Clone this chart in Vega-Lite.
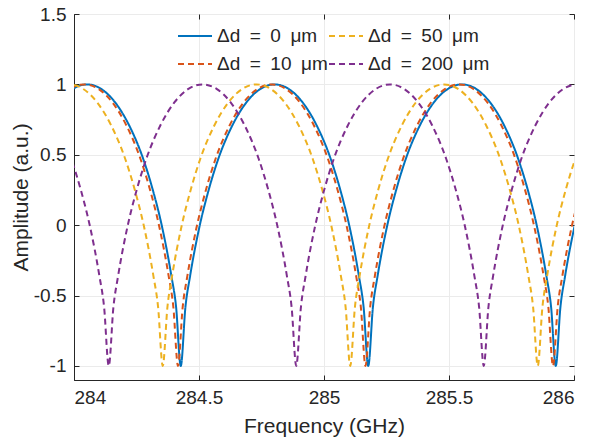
{
  "$schema": "https://vega.github.io/schema/vega-lite/v6.json",
  "width": 500,
  "height": 366,
  "autosize": {"type": "none"},
  "padding": {"left": 74, "top": 14, "right": 23, "bottom": 65},
  "background": "white",
  "config": {
    "font": "Liberation Sans",
    "view": {"stroke": "#262626", "strokeWidth": 1},
    "axis": {
      "labelFont": "Liberation Sans",
      "titleFont": "Liberation Sans",
      "labelColor": "#262626",
      "titleColor": "#262626",
      "labelFontSize": 19,
      "titleFontSize": 21,
      "titleFontWeight": "normal",
      "domainColor": "#262626",
      "tickColor": "#262626",
      "gridColor": "#ebebeb",
      "gridWidth": 1
    }
  },
  "datasets": {
    "curves": [
      {"k":"0","f":283.9395,"a":0.872},{"k":"0","f":283.9958,"a":0.968},{"k":"0","f":284.052,"a":1},{"k":"0","f":284.1083,"a":0.968},{"k":"0","f":284.1645,"a":0.872},{"k":"0","f":284.2208,"a":0.708},{"k":"0","f":284.277,"a":0.47},{"k":"0","f":284.3145,"a":0.255},{"k":"0","f":284.352,"a":-0.01},{"k":"0","f":284.3895,"a":-0.36},{"k":"0","f":284.4083,"a":-0.58},{"k":"0","f":284.427,"a":-1},
      {"k":"0","f":284.4458,"a":-0.58},{"k":"0","f":284.4645,"a":-0.36},{"k":"0","f":284.502,"a":-0.01},{"k":"0","f":284.5395,"a":0.255},{"k":"0","f":284.577,"a":0.47},{"k":"0","f":284.6333,"a":0.708},{"k":"0","f":284.6895,"a":0.872},{"k":"0","f":284.7458,"a":0.968},{"k":"0","f":284.802,"a":1},{"k":"0","f":284.8583,"a":0.968},{"k":"0","f":284.9145,"a":0.872},{"k":"0","f":284.9708,"a":0.708},{"k":"0","f":285.027,"a":0.47},{"k":"0","f":285.0645,"a":0.255},{"k":"0","f":285.102,"a":-0.01},{"k":"0","f":285.1395,"a":-0.36},{"k":"0","f":285.1583,"a":-0.58},{"k":"0","f":285.177,"a":-1},
      {"k":"0","f":285.1958,"a":-0.58},{"k":"0","f":285.2145,"a":-0.36},{"k":"0","f":285.252,"a":-0.01},{"k":"0","f":285.2895,"a":0.255},{"k":"0","f":285.327,"a":0.47},{"k":"0","f":285.3833,"a":0.708},{"k":"0","f":285.4395,"a":0.872},{"k":"0","f":285.4958,"a":0.968},{"k":"0","f":285.552,"a":1},{"k":"0","f":285.6083,"a":0.968},{"k":"0","f":285.6645,"a":0.872},{"k":"0","f":285.7208,"a":0.708},{"k":"0","f":285.777,"a":0.47},{"k":"0","f":285.8145,"a":0.255},{"k":"0","f":285.852,"a":-0.01},{"k":"0","f":285.8895,"a":-0.36},{"k":"0","f":285.9083,"a":-0.58},{"k":"0","f":285.927,"a":-1},
      {"k":"0","f":285.9458,"a":-0.58},{"k":"0","f":285.9645,"a":-0.36},{"k":"0","f":286.002,"a":-0.01},{"k":"0","f":286.0395,"a":0.255},

      {"k":"10","f":283.9285,"a":0.872},{"k":"10","f":283.9848,"a":0.968},{"k":"10","f":284.041,"a":1},{"k":"10","f":284.0973,"a":0.968},{"k":"10","f":284.1535,"a":0.872},{"k":"10","f":284.2098,"a":0.708},{"k":"10","f":284.266,"a":0.47},{"k":"10","f":284.3035,"a":0.255},{"k":"10","f":284.341,"a":-0.01},{"k":"10","f":284.3785,"a":-0.36},{"k":"10","f":284.3973,"a":-0.58},{"k":"10","f":284.416,"a":-1},
      {"k":"10","f":284.4348,"a":-0.58},{"k":"10","f":284.4535,"a":-0.36},{"k":"10","f":284.491,"a":-0.01},{"k":"10","f":284.5285,"a":0.255},{"k":"10","f":284.566,"a":0.47},{"k":"10","f":284.6223,"a":0.708},{"k":"10","f":284.6785,"a":0.872},{"k":"10","f":284.7348,"a":0.968},{"k":"10","f":284.791,"a":1},{"k":"10","f":284.8473,"a":0.968},{"k":"10","f":284.9035,"a":0.872},{"k":"10","f":284.9598,"a":0.708},{"k":"10","f":285.016,"a":0.47},{"k":"10","f":285.0535,"a":0.255},{"k":"10","f":285.091,"a":-0.01},{"k":"10","f":285.1285,"a":-0.36},{"k":"10","f":285.1473,"a":-0.58},{"k":"10","f":285.166,"a":-1},
      {"k":"10","f":285.1848,"a":-0.58},{"k":"10","f":285.2035,"a":-0.36},{"k":"10","f":285.241,"a":-0.01},{"k":"10","f":285.2785,"a":0.255},{"k":"10","f":285.316,"a":0.47},{"k":"10","f":285.3723,"a":0.708},{"k":"10","f":285.4285,"a":0.872},{"k":"10","f":285.4848,"a":0.968},{"k":"10","f":285.541,"a":1},{"k":"10","f":285.5973,"a":0.968},{"k":"10","f":285.6535,"a":0.872},{"k":"10","f":285.7098,"a":0.708},{"k":"10","f":285.766,"a":0.47},{"k":"10","f":285.8035,"a":0.255},{"k":"10","f":285.841,"a":-0.01},{"k":"10","f":285.8785,"a":-0.36},{"k":"10","f":285.8973,"a":-0.58},{"k":"10","f":285.916,"a":-1},
      {"k":"10","f":285.9348,"a":-0.58},{"k":"10","f":285.9535,"a":-0.36},{"k":"10","f":285.991,"a":-0.01},{"k":"10","f":286.0285,"a":0.255},

      {"k":"50","f":283.9238,"a":0.968},{"k":"50","f":283.98,"a":1},{"k":"50","f":284.0363,"a":0.968},{"k":"50","f":284.0925,"a":0.872},{"k":"50","f":284.1488,"a":0.708},{"k":"50","f":284.205,"a":0.47},{"k":"50","f":284.2425,"a":0.255},{"k":"50","f":284.28,"a":-0.01},{"k":"50","f":284.3175,"a":-0.36},{"k":"50","f":284.3363,"a":-0.58},{"k":"50","f":284.355,"a":-1},
      {"k":"50","f":284.3738,"a":-0.58},{"k":"50","f":284.3925,"a":-0.36},{"k":"50","f":284.43,"a":-0.01},{"k":"50","f":284.4675,"a":0.255},{"k":"50","f":284.505,"a":0.47},{"k":"50","f":284.5613,"a":0.708},{"k":"50","f":284.6175,"a":0.872},{"k":"50","f":284.6738,"a":0.968},{"k":"50","f":284.73,"a":1},{"k":"50","f":284.7863,"a":0.968},{"k":"50","f":284.8425,"a":0.872},{"k":"50","f":284.8988,"a":0.708},{"k":"50","f":284.955,"a":0.47},{"k":"50","f":284.9925,"a":0.255},{"k":"50","f":285.03,"a":-0.01},{"k":"50","f":285.0675,"a":-0.36},{"k":"50","f":285.0863,"a":-0.58},{"k":"50","f":285.105,"a":-1},
      {"k":"50","f":285.1238,"a":-0.58},{"k":"50","f":285.1425,"a":-0.36},{"k":"50","f":285.18,"a":-0.01},{"k":"50","f":285.2175,"a":0.255},{"k":"50","f":285.255,"a":0.47},{"k":"50","f":285.3113,"a":0.708},{"k":"50","f":285.3675,"a":0.872},{"k":"50","f":285.4238,"a":0.968},{"k":"50","f":285.48,"a":1},{"k":"50","f":285.5363,"a":0.968},{"k":"50","f":285.5925,"a":0.872},{"k":"50","f":285.6488,"a":0.708},{"k":"50","f":285.705,"a":0.47},{"k":"50","f":285.7425,"a":0.255},{"k":"50","f":285.78,"a":-0.01},{"k":"50","f":285.8175,"a":-0.36},{"k":"50","f":285.8363,"a":-0.58},{"k":"50","f":285.855,"a":-1},
      {"k":"50","f":285.8738,"a":-0.58},{"k":"50","f":285.8925,"a":-0.36},{"k":"50","f":285.93,"a":-0.01},{"k":"50","f":285.9675,"a":0.255},{"k":"50","f":286.005,"a":0.47},{"k":"50","f":286.0613,"a":0.708},

      {"k":"200","f":283.9328,"a":0.708},{"k":"200","f":283.989,"a":0.47},{"k":"200","f":284.0265,"a":0.255},{"k":"200","f":284.064,"a":-0.01},{"k":"200","f":284.1015,"a":-0.36},{"k":"200","f":284.1203,"a":-0.58},{"k":"200","f":284.139,"a":-1},
      {"k":"200","f":284.1578,"a":-0.58},{"k":"200","f":284.1765,"a":-0.36},{"k":"200","f":284.214,"a":-0.01},{"k":"200","f":284.2515,"a":0.255},{"k":"200","f":284.289,"a":0.47},{"k":"200","f":284.3453,"a":0.708},{"k":"200","f":284.4015,"a":0.872},{"k":"200","f":284.4578,"a":0.968},{"k":"200","f":284.514,"a":1},{"k":"200","f":284.5703,"a":0.968},{"k":"200","f":284.6265,"a":0.872},{"k":"200","f":284.6828,"a":0.708},{"k":"200","f":284.739,"a":0.47},{"k":"200","f":284.7765,"a":0.255},{"k":"200","f":284.814,"a":-0.01},{"k":"200","f":284.8515,"a":-0.36},{"k":"200","f":284.8703,"a":-0.58},{"k":"200","f":284.889,"a":-1},
      {"k":"200","f":284.9078,"a":-0.58},{"k":"200","f":284.9265,"a":-0.36},{"k":"200","f":284.964,"a":-0.01},{"k":"200","f":285.0015,"a":0.255},{"k":"200","f":285.039,"a":0.47},{"k":"200","f":285.0953,"a":0.708},{"k":"200","f":285.1515,"a":0.872},{"k":"200","f":285.2078,"a":0.968},{"k":"200","f":285.264,"a":1},{"k":"200","f":285.3203,"a":0.968},{"k":"200","f":285.3765,"a":0.872},{"k":"200","f":285.4328,"a":0.708},{"k":"200","f":285.489,"a":0.47},{"k":"200","f":285.5265,"a":0.255},{"k":"200","f":285.564,"a":-0.01},{"k":"200","f":285.6015,"a":-0.36},{"k":"200","f":285.6203,"a":-0.58},{"k":"200","f":285.639,"a":-1},
      {"k":"200","f":285.6578,"a":-0.58},{"k":"200","f":285.6765,"a":-0.36},{"k":"200","f":285.714,"a":-0.01},{"k":"200","f":285.7515,"a":0.255},{"k":"200","f":285.789,"a":0.47},{"k":"200","f":285.8453,"a":0.708},{"k":"200","f":285.9015,"a":0.872},{"k":"200","f":285.9578,"a":0.968},{"k":"200","f":286.014,"a":1},{"k":"200","f":286.0703,"a":0.968}
    ]
  },
  "data": {"name": "curves"},
  "layer": [
    {
      "mark": {"type": "line", "clip": true, "strokeWidth": 2, "strokeJoin": "round", "interpolate": "monotone"},
      "encoding": {
        "x": {
          "field": "f", "type": "quantitative",
          "scale": {"domain": [284, 286], "nice": false, "zero": false},
          "axis": {"values": [284, 284.5, 285, 285.5, 286], "title": "Frequency (GHz)", "tickSize": -5, "labelPadding": 13, "titlePadding": 8, "grid": true, "labelExpr": "replace('' + datum.value, '−', '-')"}
        },
        "y": {
          "field": "a", "type": "quantitative",
          "scale": {"domain": [-1.1, 1.5], "nice": false, "zero": false},
          "axis": {"values": [-1, -0.5, 0, 0.5, 1, 1.5], "title": "Amplitude (a.u.)", "tickSize": -5, "labelPadding": 13, "titlePadding": 2, "grid": true, "labelExpr": "replace('' + datum.value, '−', '-')"}
        },
        "color": {
          "field": "k", "type": "nominal",
          "scale": {"domain": ["0", "10", "50", "200"], "range": ["#0072BD", "#D95319", "#EDB120", "#7E2F8E"]},
          "legend": {
            "title": null, "orient": "none", "legendX": 103, "legendY": 4, "columns": 2,
            "direction": "vertical",
            "symbolType": "stroke", "symbolSize": 1156, "symbolStrokeWidth": 2,
            "labelFontSize": 19, "labelFont": "Liberation Sans", "labelColor": "#262626",
            "labelOffset": 4, "rowPadding": -9, "columnPadding": -4, "padding": 0,
            "labelExpr": "'Δd\u2002=\u2002' + datum.label + '\u2002μm'"
          }
        },
        "strokeDash": {
          "field": "k", "type": "nominal",
          "scale": {"domain": ["0", "10", "50", "200"], "range": [[1, 0], [6, 4], [6, 4], [6, 4]]},
          "legend": null
        },
        "order": {"field": "f"}
      }
    },
    {
      "mark": {"type": "point", "opacity": 0},
      "encoding": {
        "x": {"field": "f", "type": "quantitative", "axis": {"orient": "top", "values": [284, 284.5, 285, 285.5, 286], "labels": false, "title": null, "tickSize": -5, "grid": false, "domain": false}},
        "y": {"field": "a", "type": "quantitative", "axis": {"orient": "right", "values": [-1, -0.5, 0, 0.5, 1, 1.5], "labels": false, "title": null, "tickSize": -5, "grid": false, "domain": false}}
      }
    }
  ],
  "resolve": {"axis": {"x": "independent", "y": "independent"}}
}
